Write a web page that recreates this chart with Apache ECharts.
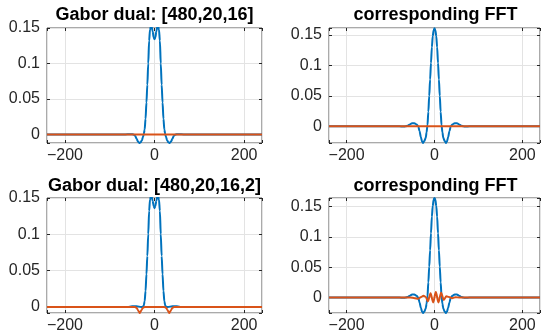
<!DOCTYPE html>
<html><head><meta charset="utf-8">
<script src="https://cdn.jsdelivr.net/npm/echarts@6/dist/echarts.min.js"></script>
<style>html,body{margin:0;padding:0;background:#fff}#c{width:543px;height:336px}</style>
</head><body><div id="c"></div>
<script>
// ---- data ----
const titles = ['Gabor dual: [480,20,16]', 'corresponding FFT', 'Gabor dual: [480,20,16,2]', 'corresponding FFT'];
const xTicks = [-200, 0, 200];
const xTickLabels = ['\u2212200', '0', '200'];
const yTicks = [0, 0.05, 0.1, 0.15];
const yTickLabels = ['0', '0.05', '0.1', '0.15'];
const xRange = [-240, 240];
const yRanges = [[-0.012, 0.15], [-0.0275, 0.1615], [-0.0083, 0.15], [-0.0255, 0.164]];

// top-left: Gabor dual [480,20,16]
const tlX = [-240,-70,-60,-52,-47,-43,-40,-37,-34,-31,-28,-26,-24,-22,-20,-18,-16,-14,-12,-10,-8,-6,-4,-2,0,2,4,6,8,10,12,14,16,18,20,22,24,26,28,31,34,37,40,43,47,52,60,70,240];
const tlBlue = [0,0,0.0002,0.0005,0,-0.002,-0.006,-0.010,-0.012,-0.011,-0.008,-0.004,0,0.007,0.022,0.045,0.070,0.100,0.132,0.148,0.152,0.151,0.145,0.137,0.134,0.137,0.145,0.151,0.152,0.148,0.132,0.100,0.070,0.045,0.022,0.007,0,-0.004,-0.008,-0.011,-0.012,-0.010,-0.006,-0.002,0,0.0005,0.0002,0,0];
const tlOrangeX = [-240, 240];
const tlOrange = [0, 0];

// top-right: FFT
const trX = [-240,-80,-70,-66,-61,-56,-51,-46,-41,-37,-34,-31,-28,-26,-23,-20,-18,-16,-14,-12,-10,-8,-6,-4,-2,0,2,4,6,8,10,12,14,16,18,20,23,26,28,31,34,37,41,46,51,56,61,66,70,80,240];
const trBlue = [0,0,-0.0005,0,0.001,0.003,0.005,0.005,0.003,0,-0.008,-0.018,-0.026,-0.0275,-0.024,-0.019,-0.010,0.002,0.024,0.050,0.077,0.104,0.130,0.148,0.158,0.161,0.158,0.148,0.130,0.104,0.077,0.050,0.024,0.002,-0.010,-0.019,-0.024,-0.0275,-0.026,-0.018,-0.008,0,0.003,0.005,0.005,0.003,0.001,0,-0.0005,0,0];
const trOrangeX = [-240, 240];
const trOrange = [0, 0];

// bottom-left: Gabor dual [480,20,16,2]
const blX = [-240,-60,-50,-40,-30,-26,-24,-22,-20,-18,-16,-14,-12,-10,-8,-6,-4,-2,0,2,4,6,8,10,12,14,16,18,20,22,24,26,30,40,50,60,240];
const blBlue = [0,0,0.001,0.001,0,0,0.002,0.008,0.022,0.045,0.070,0.100,0.132,0.148,0.152,0.151,0.146,0.139,0.136,0.139,0.146,0.151,0.152,0.148,0.132,0.100,0.070,0.045,0.022,0.008,0.002,0,0,0.001,0.001,0,0];
const blOrangeX = [-240,-44,-40,-37,-35,-33,-31,-29,-26,-22,22,26,29,31,33,35,37,40,44,240];
const blOrange = [0,0,-0.001,-0.004,-0.0065,-0.0083,-0.0065,-0.004,-0.001,0,0,-0.001,-0.004,-0.0065,-0.0083,-0.0065,-0.004,-0.001,0,0];

// bottom-right: FFT
const brX = trX;
const brBlue = [0,0,-0.0005,0,0.001,0.003,0.005,0.005,0.003,0,-0.008,-0.017,-0.024,-0.0255,-0.023,-0.018,-0.010,0.002,0.025,0.051,0.078,0.106,0.133,0.151,0.161,0.164,0.161,0.151,0.133,0.106,0.078,0.051,0.025,0.002,-0.010,-0.018,-0.023,-0.0255,-0.024,-0.017,-0.008,0,0.003,0.005,0.005,0.003,0.001,0,-0.0005,0,0];
const brOrangeX = [-240,-70,-55,-45,-37,-30,-25,-20,-15,-9,-3,3,9,15,21,27,33,40,48,56,70,240];
const brOrange = [0,0,0,-0.001,-0.002,0.001,0.003,0.001,-0.006,0.007,-0.008,0.009,-0.008,0.008,-0.004,0.002,0.001,-0.001,0.0005,0,0,0];

// ---- build ----
const zip = (xs, ys) => xs.map((x, i) => [x, ys[i]]);
const panels = [
  {blue: zip(tlX, tlBlue), orange: zip(tlOrangeX, tlOrange)},
  {blue: zip(trX, trBlue), orange: zip(trOrangeX, trOrange)},
  {blue: zip(blX, blBlue), orange: zip(blOrangeX, blOrange)},
  {blue: zip(brX, brBlue), orange: zip(brOrangeX, brOrange)}
];
const grids = [
  {left: 47, top: 28, width: 215, height: 115},
  {left: 329, top: 28, width: 214, height: 115},
  {left: 47, top: 198, width: 215, height: 115},
  {left: 329, top: 198, width: 214, height: 115}
];
const FONT = '"Liberation Sans", Arial, Helvetica, sans-serif';
const AX = '#262626';
const BOX = '#555555';
const GRIDC = '#e3e3e3';
const BLUE = '#0072BD', ORANGE = '#D95319';

function xFmt(v) {
  for (let i = 0; i < xTicks.length; i++) if (Math.abs(v - xTicks[i]) < 1e-6) return xTickLabels[i];
  return '';
}
function yFmt(v) {
  for (let i = 0; i < yTicks.length; i++) if (Math.abs(v - yTicks[i]) < 1e-9) return yTickLabels[i];
  return '';
}
const mkTick = () => ({show: true, inside: true, length: 3, lineStyle: {color: AX, width: 1}});

const option = {
  animation: false,
  backgroundColor: '#fff',
  grid: grids.map(g => Object.assign({show: true, borderColor: BOX, borderWidth: 1}, g)),
  xAxis: [], yAxis: [], series: [],
  graphic: []
};
grids.forEach((g, i) => {
  const xBase = {type: 'value', gridIndex: i, min: xRange[0], max: xRange[1], splitNumber: 2};
  const yBase = {type: 'value', gridIndex: i, min: yRanges[i][0], max: yRanges[i][1], splitNumber: 3};
  option.xAxis.push(Object.assign({}, xBase, {
    position: 'bottom',
    axisLine: {show: false, onZero: false},
    axisTick: mkTick(),
    axisLabel: {show: true, margin: 5, formatter: xFmt, fontFamily: FONT, fontSize: 16, color: AX},
    splitLine: {show: true, lineStyle: {color: GRIDC, width: 1}}
  }));
  option.xAxis.push(Object.assign({}, xBase, {
    position: 'top',
    axisLine: {show: false, onZero: false},
    axisTick: mkTick(),
    axisLabel: {show: false},
    splitLine: {show: false}
  }));
  option.yAxis.push(Object.assign({}, yBase, {
    position: 'left',
    axisLine: {show: false, onZero: false},
    axisTick: mkTick(),
    axisLabel: {show: true, margin: 7, formatter: yFmt, fontFamily: FONT, fontSize: 16, color: AX},
    splitLine: {show: true, lineStyle: {color: GRIDC, width: 1}}
  }));
  option.yAxis.push(Object.assign({}, yBase, {
    position: 'right',
    axisLine: {show: false, onZero: false},
    axisTick: mkTick(),
    axisLabel: {show: false},
    splitLine: {show: false}
  }));
  option.series.push({
    type: 'line', xAxisIndex: 2 * i, yAxisIndex: 2 * i, data: panels[i].blue,
    showSymbol: false, smooth: 0.3, smoothMonotone: 'x', clip: true,
    lineStyle: {color: BLUE, width: 2}, itemStyle: {color: BLUE}
  });
  option.series.push({
    type: 'line', xAxisIndex: 2 * i, yAxisIndex: 2 * i, data: panels[i].orange,
    showSymbol: false, smooth: 0.3, smoothMonotone: 'x', clip: true,
    lineStyle: {color: ORANGE, width: 2}, itemStyle: {color: ORANGE}
  });
  option.graphic.push({
    type: 'text', x: g.left + g.width / 2 + (i % 2 === 1 ? -0.5 : 0), y: (i < 2 ? 15.5 : 186.5),
    style: {text: titles[i], align: 'center', verticalAlign: 'middle', fill: '#000',
      font: 'bold 18px ' + FONT}
  });
});

const chart = echarts.init(document.getElementById('c'), null, {renderer: 'canvas'});
chart.setOption(option);
</script>
</body></html>
